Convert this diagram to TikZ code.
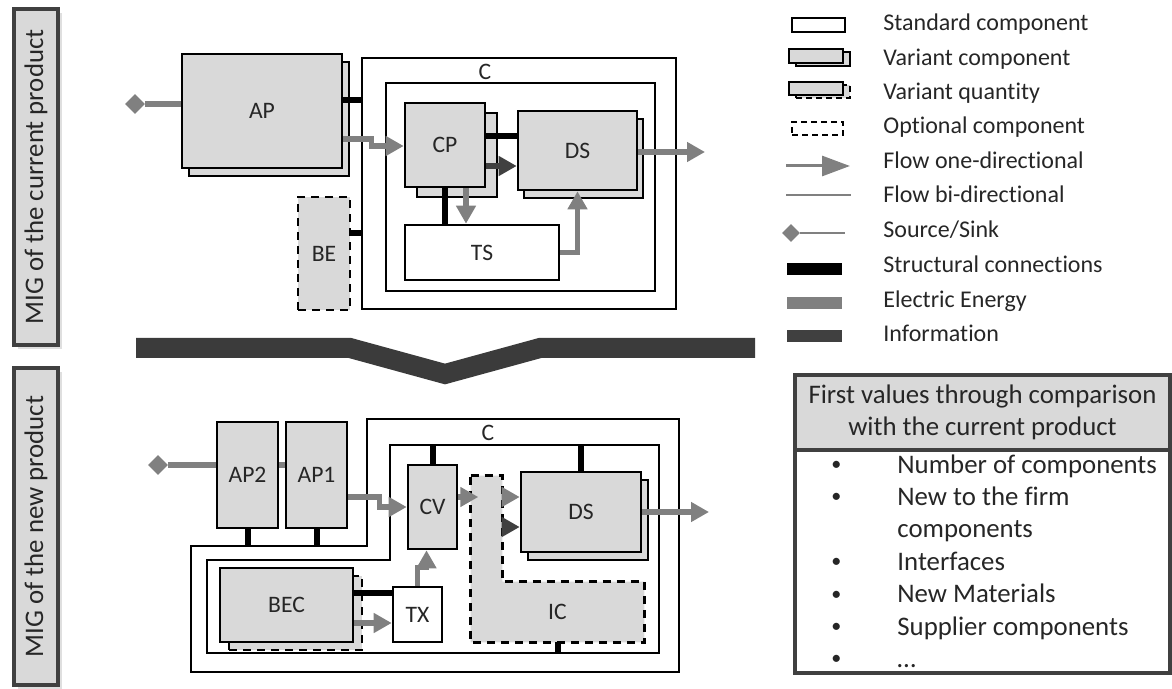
\documentclass[tikz,border=0pt]{standalone}
\usepackage{fontspec}
\setmainfont{Carlito}[Ligatures=NoCommon]
\usepackage{xcolor}
\usepackage{tikz}
\usetikzlibrary{shapes.geometric, arrows.meta, positioning, shadows}

\definecolor{boxgray}{HTML}{D9D9D9}
\definecolor{elecgray}{HTML}{808080}
\definecolor{infodark}{HTML}{404040}
\definecolor{bardark}{HTML}{3B3B3B}
\definecolor{txtdark}{HTML}{262626}

\tikzstyle{comp} = [draw, line width=1.3pt, fill=white, inner sep=1pt]
\tikzstyle{variant} = [comp, fill=boxgray]
\tikzstyle{optional} = [comp, fill=boxgray, dash pattern=on 4pt off 3pt]
\tikzstyle{cframe} = [draw, line width=1.3pt]
\tikzstyle{struct} = [line width=3pt, draw=black]
\tikzstyle{elec} = [line width=2.6pt, draw=elecgray, -{Triangle[length=9pt, width=9.5pt]}]
\tikzstyle{info} = [line width=2.6pt, draw=infodark, -{Triangle[length=9pt, width=9.5pt]}]
\tikzstyle{bidir} = [line width=2.6pt, draw=elecgray]
\tikzstyle{srcsink} = [diamond, fill=elecgray, inner sep=0pt, minimum size=10pt]
\tikzstyle{legtext} = [anchor=west, inner sep=0pt, text height=1.6ex, text depth=0.4ex, font=\fontsize{12}{14}\selectfont]
\tikzstyle{sidebox} = [draw=infodark, line width=2pt, fill=boxgray, minimum width=22pt, inner sep=0pt, font=\fontsize{13.4}{16}\selectfont, drop shadow={opacity=0.25, shadow xshift=2pt, shadow yshift=-2pt}]

\newcommand{\smallbullet}{\raisebox{0.2ex}{\scalebox{0.75}{\textbullet}}}

\begin{document}
\begin{tikzpicture}[x=0.5pt, y=-0.5pt, font=\fontsize{11.8}{14}\selectfont, text=txtdark]
\useasboundingbox (0,0) rectangle (1172,689);

% Side labels
\node (sideCur) [sidebox, minimum height=168pt] at (36,177) {\rotatebox{90}{MIG of the current product}};
\node (sideNew) [sidebox, minimum height=158.5pt] at (36,526.5) {\rotatebox{90}{MIG of the new product}};

% Current product
\node (CoutA) [cframe, minimum width=157pt, minimum height=125.5pt] at (519,183.5) {};
\node (CinA) [cframe, minimum width=134.5pt, minimum height=104pt] at (520.5,187) {};
\node (lblCA) at (485,72) {C};
\node (AP) [variant, copy shadow={shadow xshift=3.5pt, shadow yshift=-4pt}, minimum width=80pt, minimum height=57pt] at (262,111) {AP};
\node (CP) [variant, copy shadow={shadow xshift=6pt, shadow yshift=-5pt}, minimum width=40pt, minimum height=42pt] at (445,145) {CP};
\node (DSA) [variant, copy shadow={shadow xshift=3pt, shadow yshift=-4pt}, minimum width=59.5pt, minimum height=39.5pt] at (577.5,150.5) {DS};
\node (TS) [comp, minimum width=77pt, minimum height=27.5pt] at (482,252.5) {TS};
\node (BE) [optional, minimum width=26pt, minimum height=56.5pt] at (324,253.5) {BE};
\node (srcA) [srcsink] at (135,104) {};
\coordinate (outA) at (705,152);

\draw [bidir] (srcA) -- (srcA -| AP.west);
\draw [struct] (AP.east |- 0,100) -- (CoutA.west |- 0,100);
\draw [struct] (BE.east |- 0,233) -- (CoutA.west |- 0,233);
\draw [elec] (AP.east |- 0,139) -- ++(28,0) |- (CP.west |- 0,146);
\draw [struct] (CP.east |- 0,136) -- (DSA.west |- 0,136);
\draw [info] (CP.east |- 0,166) -- (DSA.west |- 0,166);
\draw [struct] (CP.south) -- (CP.south |- TS.north);
\draw [elec] ([xshift=10.5pt]CP.south) -- ([xshift=10.5pt]CP.south |- TS.north);
\draw [elec] (TS.east) -| (DSA.south);
\draw [elec] (DSA.east |- outA) -- (outA);

% Transition bar
\draw [line width=10pt, draw=bardark] (136,348) -- (350,348) -- (445,374) -- (540,348) -- (755,348);

% New product
\coordinate (oA) at (367,419); \coordinate (oB) at (679,419); \coordinate (oC) at (679,672);
\coordinate (oD) at (191,672); \coordinate (oE) at (191,546); \coordinate (oF) at (367,546);
\coordinate (iA) at (390,445); \coordinate (iB) at (659,445); \coordinate (iC) at (659,653);
\coordinate (iD) at (207,653); \coordinate (iE) at (207,560); \coordinate (iF) at (390,560);
\draw [cframe] (oA) -- (oB) -- (oC) -- (oD) -- (oE) -- (oF) -- cycle;
\draw [cframe] (iA) -- (iB) -- (iC) -- (iD) -- (iE) -- (iF) -- cycle;
\node (lblCB) at (488,433) {C};

\node (AP2) [variant, minimum width=30.5pt, minimum height=53pt] at (247.5,475) {AP2};
\node (AP1) [variant, minimum width=30.5pt, minimum height=53pt] at (316.5,475) {AP1};
\node (CV) [variant, minimum width=24.5pt, minimum height=42pt] at (432.5,507) {CV};
\node (DSB) [variant, copy shadow={shadow xshift=3.5pt, shadow yshift=-4pt}, minimum width=60pt, minimum height=40pt] at (581,512) {DS};
\node (ICv) [minimum width=15.5pt, minimum height=83pt, inner sep=0pt] at (486.5,559) {};
\node (ICh) [minimum width=86.5pt, minimum height=30pt, inner sep=0pt] at (557.5,612) {};
\draw [optional] (ICv.north west) -- (ICv.north east) -- (ICv.east |- ICh.north) -- (ICh.north east) -- (ICh.south east) -- (ICh.south west) -- cycle;
\node (lblIC) at (ICh.center) {IC};
\node (TX) [comp, minimum width=24.5pt, minimum height=27.5pt] at (417.5,614.5) {TX};
\node (BEC) [variant, copy shadow={shadow xshift=4.5pt, shadow yshift=-4pt, dash pattern=on 4pt off 3pt}, minimum width=66.5pt, minimum height=37pt] at (286.5,605) {BEC};
\node (srcB) [srcsink] at (158,465) {};
\coordinate (outB) at (709,512);

\draw [bidir] (srcB) -- (srcB -| AP2.west);
\draw [bidir] (AP2.east |- srcB) -- (AP1.west |- srcB);
\draw [struct] (AP2.south) -- (AP2.south |- oF);
\draw [struct] (AP1.south) -- (AP1.south |- oF);
\draw [elec] (AP1.east |- 0,497) -- ++(31,0) |- (CV.west);
\draw [elec] (CV.east |- 0,497) -- ++(20,0);
\draw [elec] (ICv.east |- 0,497) -- (DSB.west |- 0,497);
\draw [info] (ICv.east |- 0,527) -- (DSB.west |- 0,527);
\draw [struct] (CV.north) -- (CV.north |- iA);
\draw [struct] (DSB.north) -- (DSB.north |- iA);
\draw [struct] (ICh.south) -- (ICh.south |- iD);
\draw [elec] (DSB.east |- outB) -- (outB);
\draw [elec] (TX.north) -- ++(0,-18) -| ([xshift=-3pt]CV.south);
\draw [struct] (BEC.east |- 0,593) -- (TX.west |- 0,593);
\draw [elec] (BEC.east |- 0,623) -- (TX.west |- 0,623);

% Legend
\node (lgStd) [comp, minimum width=26.5pt, minimum height=7pt] at (818.5,25) {};
\node (lgVar) [variant, copy shadow={shadow xshift=3.5pt, shadow yshift=-1.5pt}, minimum width=27pt, minimum height=7pt] at (816,56) {};
\node (lgQty) [variant, copy shadow={shadow xshift=3.5pt, shadow yshift=-1.5pt, dash pattern=on 3pt off 2pt}, minimum width=27pt, minimum height=6.5pt] at (816,88.5) {};
\node (lgOpt) [optional, fill=white, dash pattern=on 3pt off 2pt, minimum width=25.5pt, minimum height=6.5pt] at (817.5,128.5) {};
\coordinate (lgFa) at (786,166); \coordinate (lgFb) at (850,166);
\draw [line width=1.5pt, draw=elecgray, -{Triangle[length=14pt, width=10pt]}] (lgFa) -- (lgFb);
\coordinate (lgBa) at (786,195); \coordinate (lgBb) at (851,195);
\draw [line width=1.2pt, draw=elecgray] (lgBa) -- (lgBb);
\node (lgSrc) [srcsink, minimum size=9pt] at (791,233) {};
\coordinate (lgSb) at (845,233);
\draw [line width=1.2pt, draw=elecgray] (lgSrc) -- (lgSb);
\node (lgStr) [fill=black, minimum width=27.5pt, minimum height=6pt, inner sep=0pt] at (814.5,269) {};
\node (lgEl) [fill=elecgray, minimum width=27.5pt, minimum height=6pt, inner sep=0pt] at (814.5,303.5) {};
\node (lgInf) [fill=infodark, minimum width=27.5pt, minimum height=6pt, inner sep=0pt] at (814.5,336.5) {};

\node (txStd) [legtext] at (883,25) {Standard component};
\node (txVar) [legtext] at (883,60) {Variant component};
\node (txQty) [legtext] at (883,94) {Variant quantity};
\node (txOpt) [legtext] at (883,128) {Optional component};
\node (txOne) [legtext] at (883,163) {Flow one-directional};
\node (txBi) [legtext] at (883,197) {Flow bi-directional};
\node (txSrc) [legtext] at (883,232) {Source/Sink};
\node (txStr) [legtext] at (883,267) {Structural connections};
\node (txEl) [legtext] at (883,302) {Electric Energy};
\node (txInf) [legtext] at (883,336) {Information};

% First values box
\node (lstbox) [draw=infodark, line width=2pt, minimum width=187.5pt, minimum height=111.5pt] at (982.5,561.5) {};
\node (hdr) [draw=infodark, line width=2pt, fill=boxgray, minimum width=187.5pt, minimum height=37.5pt, align=center, font=\fontsize{13.4}{16.2}\selectfont] at (982.5,412.5) {First values through comparison\\with the current product};
\node (lst) [anchor=north west, inner sep=0pt, font=\fontsize{13.4}{16.2}\selectfont] at (831,450) {\begin{tabular}{@{}c@{\hspace{28pt}}l@{}}
\smallbullet & Number of components\\
\smallbullet & New to the firm\\
 & components\\
\smallbullet & Interfaces\\
\smallbullet & New Materials\\
\smallbullet & Supplier components\\
\smallbullet & \dots
\end{tabular}};
\end{tikzpicture}
\end{document}
